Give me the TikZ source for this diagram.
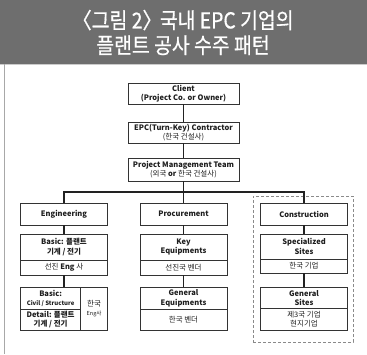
\documentclass[tikz,border=0pt]{standalone}
\usepackage{fontspec}
\setmainfont{Noto Sans CJK KR}
\newfontfamily\titlefont[FakeStretch=0.88,FakeBold=0.6]{Noto Sans CJK KR}
\definecolor{banner}{HTML}{6E6E6E}
\definecolor{boxc}{HTML}{333333}
\definecolor{txt}{HTML}{1E1E1E}
\definecolor{linec}{HTML}{222222}
\definecolor{framec}{HTML}{A8A8A8}
\definecolor{dashc}{HTML}{8A8A8A}
\begin{document}
\begin{tikzpicture}[x=1pt,y=-1pt,
  box/.style={draw=boxc, line width=0.9pt, fill=white, inner sep=0pt, align=center,
    text=txt, font=\fontsize{7.5}{9.5}\selectfont},
  conn/.style={draw=linec, line width=1.6pt},
  bus/.style={draw=linec, line width=1.3pt}]
\useasboundingbox (0,0) rectangle (367,354);
\fill[white] (0,0) rectangle (367,354);
\fill[banner] (0,0) rectangle (367,64);
\draw[framec!60, line width=0.8pt] (0,64.6) -- (367,64.6);
\draw[framec, line width=1pt] (4,64) -- (4,354);
\node[text=white, font=\titlefont\fontsize{22}{25}\selectfont, align=center] (title) at (183,32.5)
  {〈그림 2〉\kern-2pt 국내 EPC 기업의\\플랜트 공사 수주 패턴};

% dashed group
\node[draw=dashc, dashed, dash pattern=on 3pt off 2pt, line width=0.9pt, minimum width=100pt, minimum height=146pt, inner sep=0pt] (group) at (303,269) {};

% top chain
\node[box, minimum width=111pt, minimum height=21pt] (client) at (183.5,93.5)
  {\textbf{Client}\\\textbf{(Project Co. or Owner)}};
\node[box, minimum width=111pt, minimum height=21pt] (epc) at (183.5,132.5)
  {\textbf{EPC(Turn-Key) Contractor}\\(한국 건설사)};
\node[box, minimum width=111pt, minimum height=23pt] (pmt) at (183.5,169.5)
  {\textbf{Project Management Team}\\(외국 \textbf{or} 한국 건설사)};

% column heads
\node[box, minimum width=87pt, minimum height=22pt] (eng) at (64,214) {\textbf{Engineering}};
\node[box, minimum width=87pt, minimum height=22pt] (proc) at (183.5,214) {\textbf{Procurement}};
\node[box, minimum width=87pt, minimum height=22pt] (cons) at (304,214) {\textbf{Construction}};

% engineering column
\node[box, minimum width=87pt, minimum height=26pt] (basicU) at (64,247) {\textbf{Basic: 플랜트}\\\textbf{기계 / 전기}};
\node[box, minimum width=87pt, minimum height=15pt] (basicL) at (64,267.5) {선진 \textbf{Eng} 사};
\node[box, minimum width=60.2pt, minimum height=22pt] (civ) at (50.6,298.5)
  {\textbf{Basic:}\\{\fontsize{6}{8}\selectfont\textbf{Civil / Structure}}};
\node[box, minimum width=60.2pt, minimum height=20.5pt] (det) at (50.6,319.75)
  {\textbf{Detail: 플랜트}\\\textbf{기계 / 전기}};
\node[box, minimum width=26.8pt, minimum height=42.5pt] (keng) at (94.1,308.75)
  {한국\\[-1pt]{\fontsize{5.5}{7}\selectfont Eng사}};

% procurement column
\node[box, minimum width=87pt, minimum height=26pt] (keyU) at (183.5,247) {\textbf{Key}\\\textbf{Equipments}};
\node[box, minimum width=87pt, minimum height=15pt] (keyL) at (183.5,267.5) {선진국 벤더};
\node[box, minimum width=87pt, minimum height=22pt] (genU) at (183.5,298.5) {\textbf{General}\\\textbf{Equipments}};
\node[box, minimum width=87pt, minimum height=20.5pt] (genL) at (183.5,319.75) {한국 벤더};

% construction column
\node[box, minimum width=87pt, minimum height=25pt] (specU) at (304,246.5) {\textbf{Specialized}\\\textbf{Sites}};
\node[box, minimum width=87pt, minimum height=14pt] (specL) at (304,266) {한국 기업};
\node[box, minimum width=87pt, minimum height=21pt] (gsU) at (304,298) {\textbf{General}\\\textbf{Sites}};
\node[box, minimum width=87pt, minimum height=21.5pt] (gsL) at (304,319.25) {제3국 기업\\현지기업};

% connectors
\draw[conn] (client) -- (epc);
\draw[conn] (epc) -- (pmt);
\draw[conn] (pmt) -- (proc);
\coordinate (busc) at (183.5,192);
\draw[bus] (eng.north) |- (busc) -| (cons.north);
\draw[conn] (eng) -- (basicU);
\draw[conn] (basicL.south) -- (basicL.south |- civ.north);
\draw[conn] (proc) -- (keyU);
\draw[conn] (keyL) -- (genU);
\draw[conn] (cons) -- (specU);
\draw[conn] (specL) -- (gsU);
\end{tikzpicture}
\end{document}
